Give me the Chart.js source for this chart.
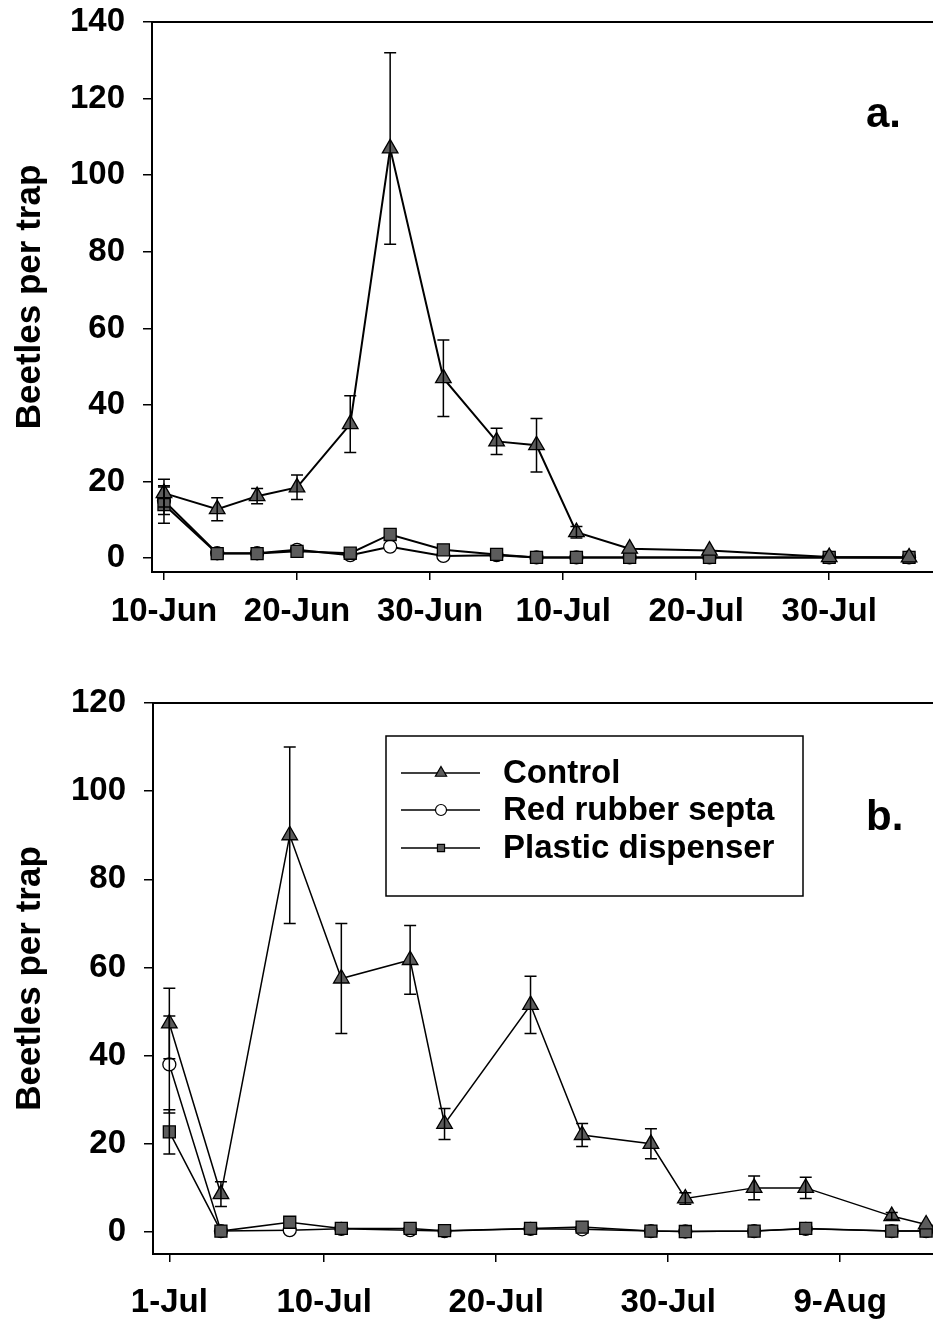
<!DOCTYPE html>
<html>
<head>
<meta charset="utf-8">
<script src="https://cdn.jsdelivr.net/npm/chart.js@4.4.1/dist/chart.umd.min.js"></script>
<style>
body{margin:0;background:#fff;width:933px;height:1323px;overflow:hidden;position:relative;font-family:"Liberation Sans",Arial,sans-serif}
canvas{position:absolute;left:0}
#graficoA{top:0}
#graficoB{top:660px}
.tag{position:absolute;font-weight:bold;font-size:42px;line-height:1;color:#000}
</style>
</head>
<body>
<canvas id="graficoA" width="933" height="660"></canvas>
<canvas id="graficoB" width="933" height="663"></canvas>
<div class="tag" style="left:866px;top:92px">a.</div>
<div class="tag" style="left:866px;top:795px">b.</div>
<script>
// panel a (June-August)
const datasA = ["06-10","06-14","06-17","06-20","06-24","06-27","07-01","07-05","07-08","07-11","07-15","07-21","07-30","08-05"]
const controlA = [17, 12.8, 16.2, 18.5, 35, 107, 47, 30.5, 29.5, 6.8, 2.5, 2, 0.3, 0.2]
const controlAErr = [3.6, 3, 2, 3.2, 7.4, 25, 10, 3.4, 7, 1.5, 0, 0, 0, 0]
const septaA = [15, 1.3, 1.3, 2.2, 0.8, 3, 0.6, 0.8, 0.2, 0.2, 0.2, 0.2, 0.2, 0.2]
const septaAErr = [3.6, 0, 0, 0, 0, 0, 0, 0, 0, 0, 0, 0, 0, 0]
const plasticA = [14, 1.2, 1.2, 1.8, 1.3, 6.2, 2.2, 1, 0.2, 0.2, 0.2, 0.2, 0.2, 0.2]
const plasticAErr = [4.9, 0, 0, 0, 0, 0, 0, 0, 0, 0, 0, 0, 0, 0]
const ticksXA = ["06-10","06-20","06-30","07-10","07-20","07-30"]
const labelsXA = ["10-Jun","20-Jun","30-Jun","10-Jul","20-Jul","30-Jul"]
const ticksYA = [0, 20, 40, 60, 80, 100, 120, 140]

// panel b (July-August)
const datasB = ["07-01","07-04","07-08","07-11","07-15","07-17","07-22","07-25","07-29","07-31","08-04","08-07","08-12","08-14"]
const controlB = [47.3, 8.6, 90, 57.5, 61.7, 24.5, 51.5, 22, 20, 7.6, 10, 10, 3.6, 1.7]
const controlBErr = [8, 2.8, 20, 12.5, 7.8, 3.5, 6.5, 2.6, 3.4, 1.3, 2.7, 2.4, 0.8, 0]
const septaB = [38, 0.2, 0.4, 0.7, 0.4, 0.2, 0.7, 0.6, 0.2, 0.1, 0.2, 0.7, 0.2, 0.2]
const septaBErr = [11, 0, 0, 0, 0, 0, 0, 0, 0, 0, 0, 0, 0, 0]
const plasticB = [22.7, 0.2, 2.2, 0.8, 0.8, 0.3, 0.8, 1.1, 0.2, 0.1, 0.2, 0.8, 0.2, 0.2]
const plasticBErr = [5, 0, 0, 0, 0, 0, 0, 0, 0, 0, 0, 0, 0, 0]
const ticksXB = ["07-01","07-10","07-20","07-30","08-09"]
const labelsXB = ["1-Jul","10-Jul","20-Jul","30-Jul","9-Aug"]
const ticksYB = [0, 20, 40, 60, 80, 100, 120]

const nomes = ["Control", "Red rubber septa", "Plastic dispenser"]

const FONTE = '"Liberation Sans", Arial, sans-serif'
const CINZA = "#5c5c5c"

function dia(s){
    const [m, d] = s.split("-").map(Number)
    return Date.UTC(2009, m - 1, d) / 864e5
}

function serie(label, datas, valores, erros, estilo){
    return Object.assign({
        label,
        data: datas.map((d, i) => ({ x: dia(d), y: valores[i] })),
        erros,
        borderColor: "#000",
        pointBorderColor: "#000",
        pointBorderWidth: 1.3,
        clip: false,
        tension: 0
    }, estilo)
}

function estilos(lw){
    return [
        { pointStyle: "triangle", pointRadius: 9, pointBackgroundColor: CINZA, borderWidth: lw, order: 0 },
        { pointStyle: "circle", pointRadius: 6.5, pointBackgroundColor: "#fff", borderWidth: lw, order: 2 },
        { pointStyle: "rect", pointRadius: 8.5, pointBackgroundColor: CINZA, borderWidth: lw, order: 1 }
    ]
}

const barrasErro = {
    id: "barrasErro",
    afterDatasetsDraw(chart){
        const ctx = chart.ctx
        const sx = chart.scales.x, sy = chart.scales.y
        ctx.save()
        ctx.strokeStyle = "#000"
        ctx.lineWidth = 1.5
        chart.data.datasets.forEach(ds => {
            ds.data.forEach((p, i) => {
                const e = ds.erros[i]
                if(!e){
                    return
                }
                const px = sx.getPixelForValue(p.x)
                const t = sy.getPixelForValue(p.y + e)
                const b = sy.getPixelForValue(p.y - e)
                ctx.beginPath()
                ctx.moveTo(px, t); ctx.lineTo(px, b)
                ctx.moveTo(px - 6, t); ctx.lineTo(px + 6, t)
                ctx.moveTo(px - 6, b); ctx.lineTo(px + 6, b)
                ctx.stroke()
            })
        })
        // top frame line
        const a = chart.chartArea
        ctx.lineWidth = 2
        ctx.beginPath()
        ctx.moveTo(a.left, a.top); ctx.lineTo(a.right, a.top)
        ctx.stroke()
        ctx.restore()
    }
}

const legendaB = {
    id: "legendaB",
    afterDraw(chart){
        const ctx = chart.ctx
        const linhas = [113, 150, 188]
        ctx.save()
        ctx.strokeStyle = "#000"
        ctx.lineWidth = 1.5
        ctx.fillStyle = "#fff"
        ctx.fillRect(386, 76, 417, 160)
        ctx.strokeRect(386, 76, 417, 160)
        const raios = [6.5, 5.5, 5]
        chart.data.datasets.forEach((ds, i) => {
            const y = linhas[i]
            ctx.strokeStyle = "#000"
            ctx.lineWidth = 1.5
            ctx.beginPath()
            ctx.moveTo(401, y); ctx.lineTo(480, y)
            ctx.stroke()
            ctx.fillStyle = ds.pointBackgroundColor
            ctx.lineWidth = 1.2
            Chart.helpers.drawPoint(ctx, { pointStyle: ds.pointStyle, radius: raios[i], rotation: 0, borderWidth: 1.2 }, 441, y)
            ctx.fillStyle = "#000"
            ctx.font = "bold 33px " + FONTE
            ctx.textBaseline = "middle"
            ctx.textAlign = "left"
            ctx.fillText(ds.label, 503, y + 1)
        })
        ctx.restore()
    }
}

function criarGrafico(id, cfg){
    const est = estilos(cfg.lw)
    return new Chart(document.getElementById(id), {
        type: "line",
        data: {
            datasets: [
                serie(nomes[0], cfg.datas, cfg.control, cfg.controlErr, est[0]),
                serie(nomes[1], cfg.datas, cfg.septa, cfg.septaErr, est[1]),
                serie(nomes[2], cfg.datas, cfg.plastic, cfg.plasticErr, est[2])
            ]
        },
        options: {
            responsive: false,
            animation: false,
            layout: { autoPadding: false, padding: { top: cfg.topo, left: 0, right: 0, bottom: 0 } },
            plugins: { legend: { display: false }, tooltip: { enabled: false } },
            scales: {
                x: {
                    type: "linear",
                    min: cfg.xmin,
                    max: cfg.xmax,
                    afterFit(s){
                        s.height = cfg.altX
                        s.paddingLeft = 0
                        s.paddingRight = 0
                    },
                    afterBuildTicks(s){ s.ticks = cfg.ticksX.map(d => ({ value: dia(d) })) },
                    ticks: {
                        autoSkip: false,
                        maxRotation: 0,
                        color: "#000",
                        padding: cfg.padX,
                        font: { family: FONTE, size: 33, weight: "bold" },
                        callback: (v, i) => cfg.labelsX[i]
                    },
                    grid: { drawOnChartArea: false, drawTicks: true, tickLength: 8, color: "#000", lineWidth: 1.5 },
                    border: { color: "#000", width: 2 }
                },
                y: {
                    min: cfg.ymin,
                    max: cfg.ymax,
                    afterFit(s){
                        s.width = cfg.largY
                        s.paddingTop = 0
                        s.paddingBottom = 0
                    },
                    afterBuildTicks(s){ s.ticks = cfg.ticksY.map(v => ({ value: v })) },
                    ticks: {
                        color: "#000",
                        padding: 18,
                        font: { family: FONTE, size: 33, weight: "bold" }
                    },
                    grid: { drawOnChartArea: false, drawTicks: true, tickLength: 9, color: "#000", lineWidth: 1.5 },
                    border: { color: "#000", width: 2 },
                    title: {
                        display: true,
                        text: "Beetles per trap",
                        color: "#000",
                        padding: { top: 9, bottom: 0 },
                        font: { family: FONTE, size: 35, weight: "bold" }
                    }
                }
            }
        },
        plugins: cfg.plugins
    })
}

const inicioA = dia("06-10")
criarGrafico("graficoA", {
    datas: datasA,
    control: controlA, controlErr: controlAErr,
    septa: septaA, septaErr: septaAErr,
    plastic: plasticA, plasticErr: plasticAErr,
    ticksX: ticksXA, labelsX: labelsXA, ticksY: ticksYA,
    xmin: inicioA - 0.9, xmax: inicioA + 57.8,
    ymin: -3.6, ymax: 140,
    topo: 22, altX: 88, largY: 152, padX: 12, lw: 2,
    plugins: [barrasErro]
})

const inicioB = dia("06-30") + 0.05
criarGrafico("graficoB", {
    datas: datasB,
    control: controlB, controlErr: controlBErr,
    septa: septaB, septaErr: septaBErr,
    plastic: plasticB, plasticErr: plasticBErr,
    ticksX: ticksXB, labelsX: labelsXB, ticksY: ticksYB,
    xmin: inicioB, xmax: inicioB + 45.35,
    ymin: -5, ymax: 120,
    topo: 43, altX: 69, largY: 153, padX: 21, lw: 1.5,
    plugins: [barrasErro, legendaB]
})
</script>
</body>
</html>
